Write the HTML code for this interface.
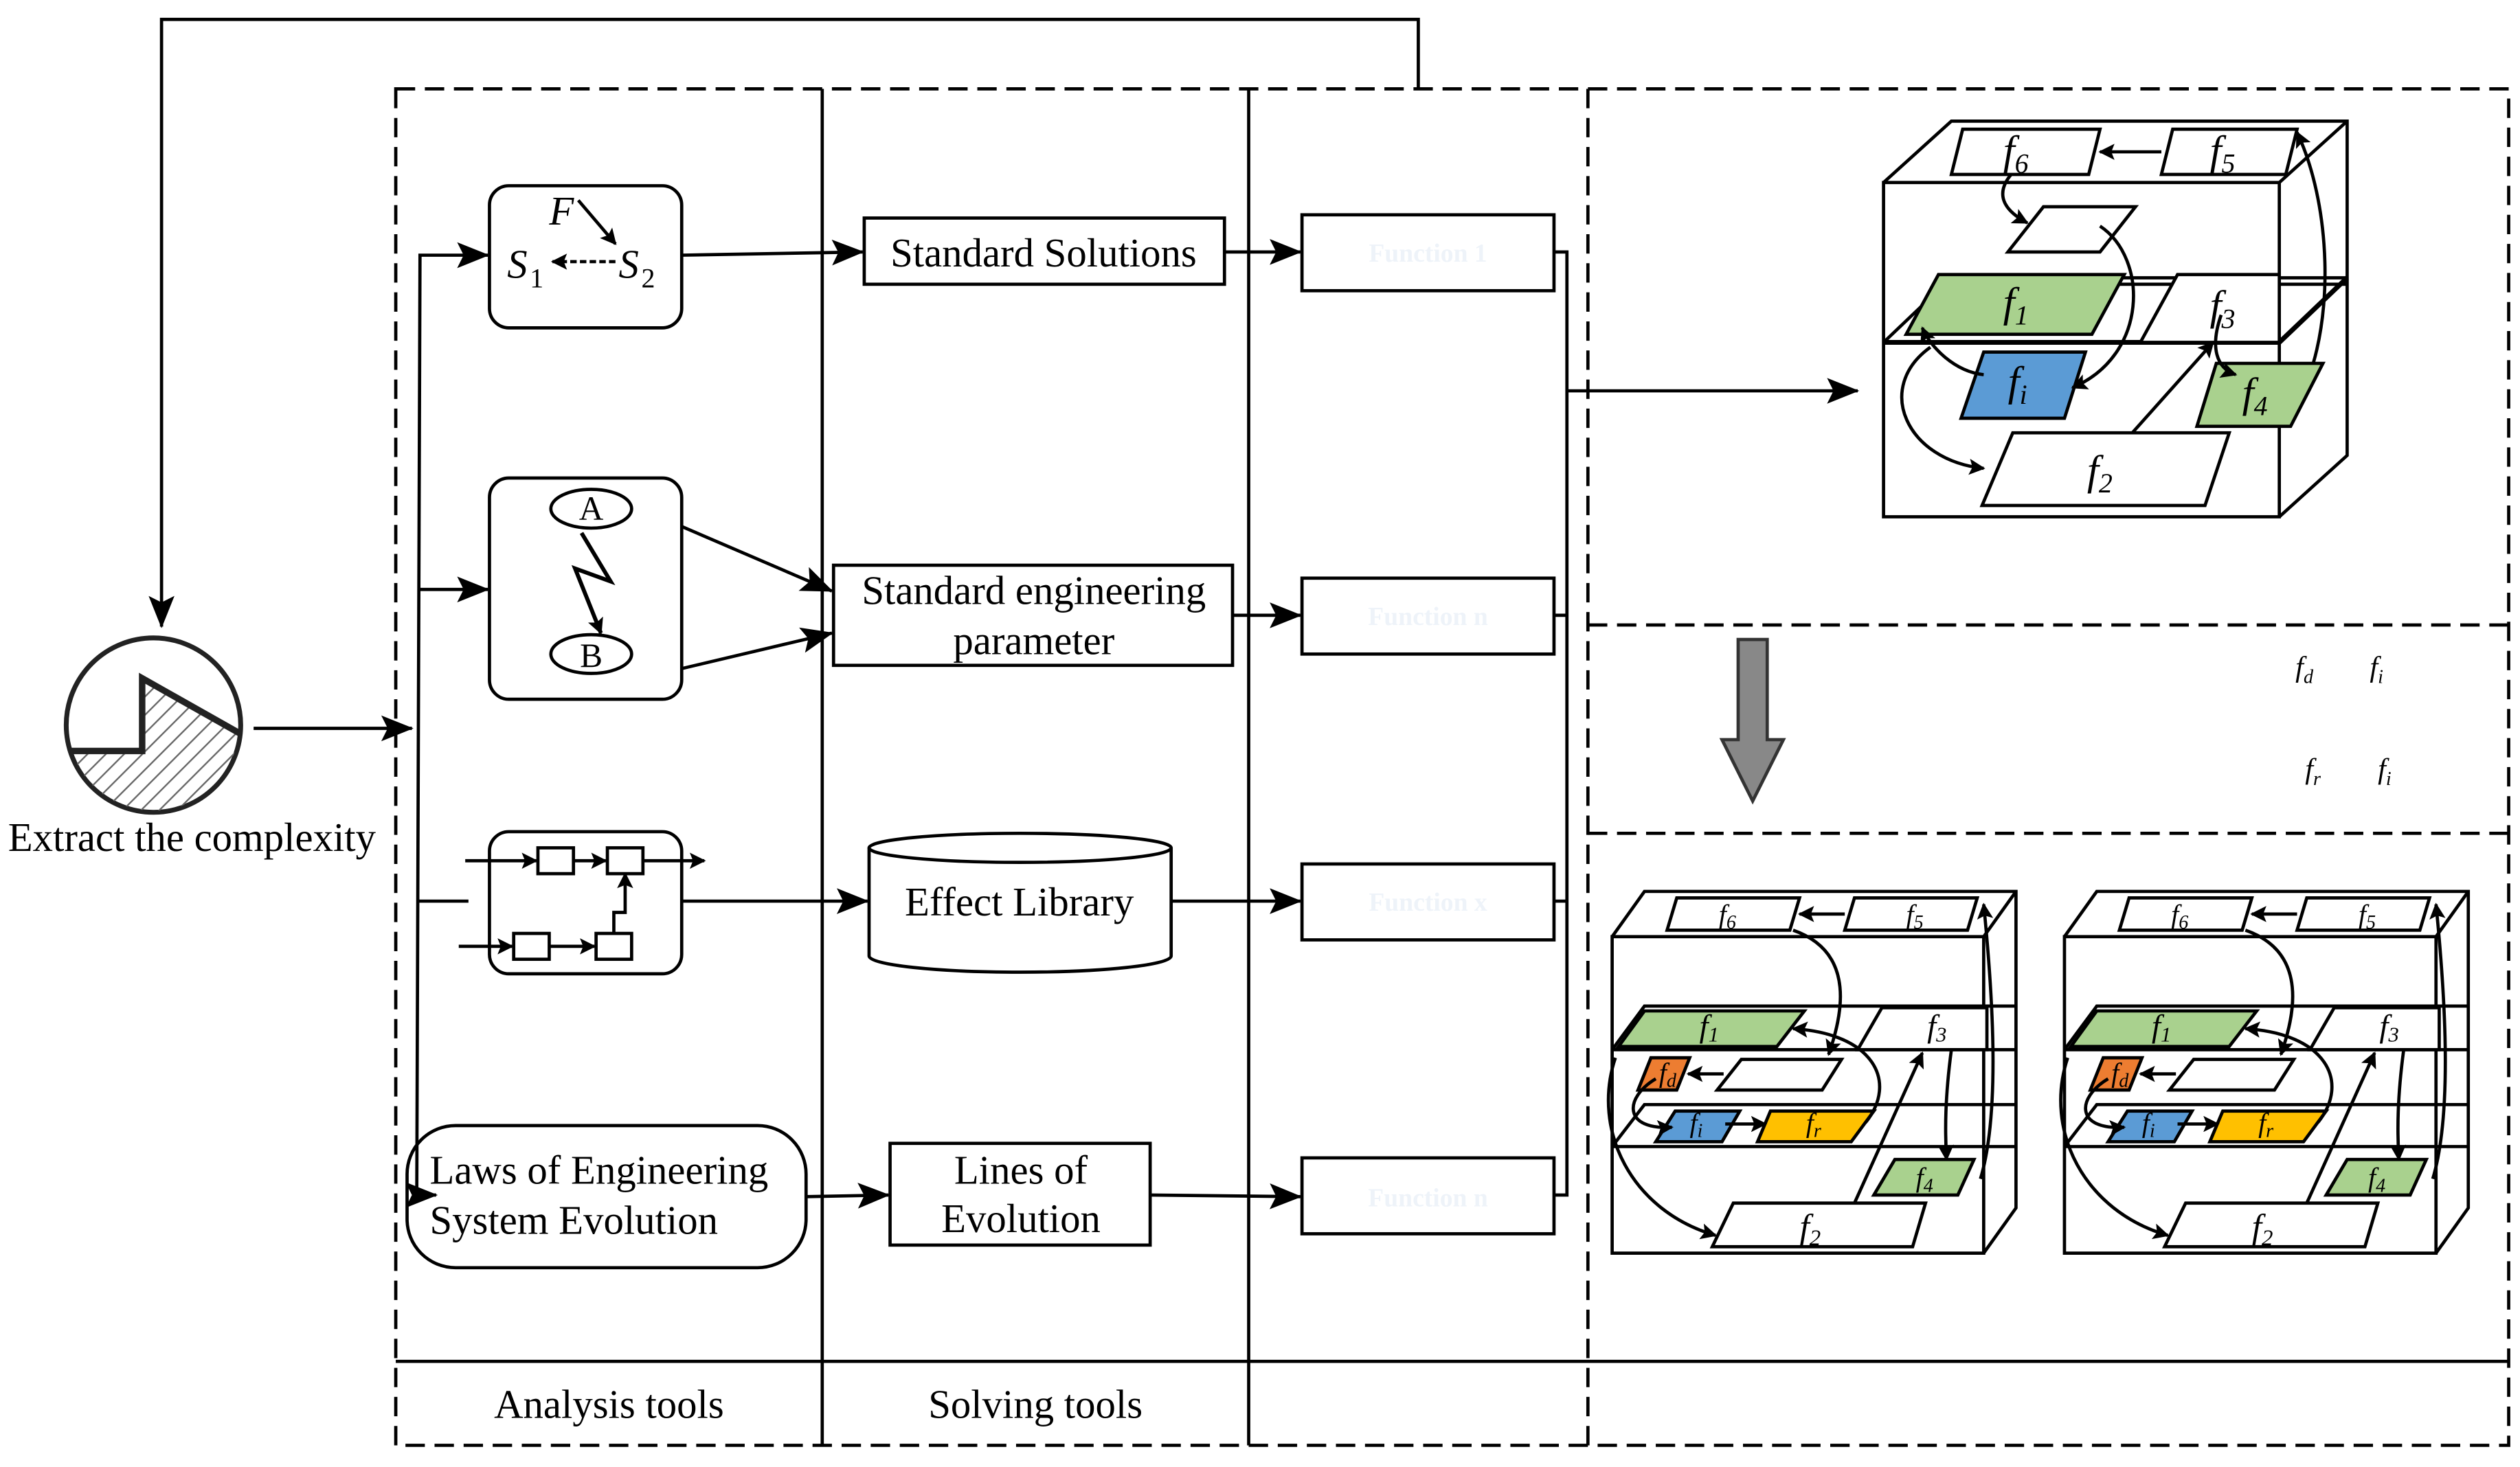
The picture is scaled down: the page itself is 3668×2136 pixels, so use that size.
<!DOCTYPE html>
<html><head><meta charset="utf-8"><style>
html,body{margin:0;padding:0;background:#fff;}
svg{display:block;}
text{font-family:"Liberation Serif",serif;fill:#000;}
.it{font-style:italic;}
</style></head><body>
<svg width="3668" height="2136" viewBox="0 0 1560 908.4" xmlns="http://www.w3.org/2000/svg">
<defs>
<marker id="a" markerWidth="10" markerHeight="10" refX="9" refY="5" orient="auto" markerUnits="userSpaceOnUse"><path d="M0,0 L10,5 L0,10 L2,5 z" fill="#000"/></marker>
<marker id="b" markerWidth="20" markerHeight="16" refX="19" refY="8" orient="auto" markerUnits="userSpaceOnUse"><path d="M0,0 L20,8 L0,16 L4,8 z" fill="#000"/></marker>
<pattern id="h" width="8" height="8" patternUnits="userSpaceOnUse" patternTransform="rotate(45)"><line x1="0" y1="0" x2="0" y2="8" stroke="#666" stroke-width="2"/></pattern>
</defs>
<g fill="none" stroke="#000" stroke-width="2">
<rect x="245" y="55" width="1308" height="840" stroke-dasharray="12,6"/>
<line x1="509" y1="55" x2="509" y2="895"/>
<line x1="773" y1="55" x2="773" y2="895"/>
<line x1="983" y1="55" x2="983" y2="895" stroke-dasharray="12,6"/>
<line x1="245" y1="843" x2="1553" y2="843"/>
<line x1="983" y1="387" x2="1553" y2="387" stroke-dasharray="12,6"/>
<line x1="983" y1="516" x2="1553" y2="516" stroke-dasharray="12,6"/>
<polyline points="878,55 878,12 100,12 100,388" marker-end="url(#b)"/>
<line x1="157" y1="451" x2="255" y2="451" marker-end="url(#b)"/>
<polyline points="255,740 258,740 260,158 302,158" marker-end="url(#b)"/>
<line x1="259" y1="365" x2="302" y2="365" marker-end="url(#b)"/>
<line x1="259" y1="558" x2="290" y2="558"/>
<line x1="255" y1="740" x2="270" y2="740" marker-end="url(#b)"/>
<rect x="303" y="115" width="119" height="88" rx="12"/>
<rect x="303" y="296" width="119" height="137" rx="12"/>
<rect x="303" y="515" width="119" height="88" rx="12"/>
<rect x="252" y="697" width="247" height="88" rx="30"/>
<line x1="358" y1="124" x2="381" y2="151" marker-end="url(#a)"/>
<line x1="381" y1="162" x2="342" y2="162" stroke-dasharray="4,2" marker-end="url(#a)"/>
<ellipse cx="366" cy="315" rx="25" ry="12"/>
<ellipse cx="366" cy="405" rx="25" ry="12"/>
<polyline points="360,330 378,360 356,352 372,392" stroke-width="2.5" marker-end="url(#a)"/>
<line x1="288" y1="533" x2="332" y2="533" marker-end="url(#a)"/>
<rect x="333" y="525" width="22" height="16"/>
<line x1="355" y1="533" x2="375" y2="533" marker-end="url(#a)"/>
<rect x="376" y="525" width="22" height="16"/>
<line x1="398" y1="533" x2="436" y2="533" marker-end="url(#a)"/>
<line x1="284" y1="586" x2="317" y2="586" marker-end="url(#a)"/>
<rect x="318" y="578" width="22" height="16"/>
<line x1="340" y1="586" x2="368" y2="586" marker-end="url(#a)"/>
<rect x="369" y="578" width="22" height="16"/>
<polyline points="380,578 380,565 387,565 387,541" marker-end="url(#a)"/>
<line x1="422" y1="158" x2="534" y2="156" marker-end="url(#b)"/>
<line x1="422" y1="326" x2="515" y2="366" marker-end="url(#b)"/>
<line x1="422" y1="414" x2="515" y2="392" marker-end="url(#b)"/>
<line x1="422" y1="558" x2="537" y2="558" marker-end="url(#b)"/>
<line x1="499" y1="741" x2="550" y2="740" marker-end="url(#b)"/>
<rect x="535" y="135" width="223" height="41"/>
<rect x="516" y="350" width="247" height="62"/>
<path d="M538,525 L538,592 A93.5,10 0 0 0 725,592 L725,525"/>
<ellipse cx="631.5" cy="525" rx="93.5" ry="9"/>
<rect x="551" y="708" width="161" height="63"/>
<line x1="758" y1="156" x2="805" y2="156" marker-end="url(#b)"/>
<line x1="763" y1="381" x2="805" y2="381" marker-end="url(#b)"/>
<line x1="725" y1="558" x2="805" y2="558" marker-end="url(#b)"/>
<line x1="712" y1="740" x2="805" y2="741" marker-end="url(#b)"/>
<rect x="806" y="133" width="156" height="47"/>
<rect x="806" y="358" width="156" height="47"/>
<rect x="806" y="535" width="156" height="47"/>
<rect x="806" y="717" width="156" height="47"/>
<polyline points="962,156 970,156 970,740 962,740"/>
<line x1="962" y1="381" x2="970" y2="381"/>
<line x1="962" y1="558" x2="970" y2="558"/>
<line x1="970" y1="242" x2="1150" y2="242" marker-end="url(#b)"/>
</g>
<g font-size="16" font-weight="bold">
<text x="884" y="162" text-anchor="middle" style="fill:#eef3f9">Function 1</text>
<text x="884" y="387" text-anchor="middle" style="fill:#eef3f9">Function n</text>
<text x="884" y="564" text-anchor="middle" style="fill:#eef3f9">Function x</text>
<text x="884" y="747" text-anchor="middle" style="fill:#eef3f9">Function n</text>
</g>
<circle cx="95" cy="449" r="54" fill="#fff" stroke="#222" stroke-width="3"/>
<clipPath id="cc"><circle cx="95" cy="449" r="53"/></clipPath>
<g clip-path="url(#cc)">
<polygon points="40,465 88,465 88,420 150,455 150,510 40,510" fill="url(#h)" stroke="#222" stroke-width="3"/>
<polyline points="40,465 88,465 88,420 150,455" fill="none" stroke="#222" stroke-width="4"/>
</g>
<g font-size="25">
<text x="5" y="527">Extract the complexity</text>
<text class="it" x="340" y="139">F</text>
<text class="it" x="314" y="172">S</text><text x="328" y="178" font-size="17">1</text>
<text class="it" x="383" y="172">S</text><text x="397" y="178" font-size="17">2</text>
<text x="366" y="322" text-anchor="middle" font-size="21">A</text>
<text x="366" y="413" text-anchor="middle" font-size="21">B</text>
<text x="266" y="733">Laws of Engineering</text>
<text x="266" y="764">System Evolution</text>
<text x="646" y="165" text-anchor="middle">Standard Solutions</text>
<text x="640" y="374" text-anchor="middle">Standard engineering</text>
<text x="640" y="405" text-anchor="middle">parameter</text>
<text x="631" y="567" text-anchor="middle">Effect Library</text>
<text x="632" y="733" text-anchor="middle">Lines of</text>
<text x="632" y="763" text-anchor="middle">Evolution</text>
<text x="377" y="878" text-anchor="middle">Analysis tools</text>
<text x="641" y="878" text-anchor="middle">Solving tools</text>
</g>
<g font-size="18">
<text class="it" x="1421" y="419">f<tspan font-size="12" dy="4">d</tspan></text>
<text class="it" x="1467" y="419">f<tspan font-size="12" dy="4">i</tspan></text>
<text class="it" x="1427" y="482">f<tspan font-size="12" dy="4">r</tspan></text>
<text class="it" x="1472" y="482">f<tspan font-size="12" dy="4">i</tspan></text>
</g>
<polygon points="1076,396 1094,396 1094,458 1104,458 1085,496 1066,458 1076,458" fill="#888" stroke="#333" stroke-width="2"/>
<g stroke="#000" stroke-width="2" fill="none">
<rect x="1166" y="113" width="245" height="207"/>
<polyline points="1166,113 1208,75 1453,75 1453,282 1411,320"/>
<line x1="1411" y1="113" x2="1453" y2="75"/>
<polyline points="1166,212 1208,172 1453,172"/>
<line x1="1166" y1="212" x2="1411" y2="212" stroke-width="3"/>
<line x1="1411" y1="212" x2="1453" y2="172" stroke-width="3"/>
<line x1="1208" y1="176" x2="1453" y2="176"/>
<polygon points="1215,80 1300,80 1293,108 1208,108" fill="#fff"/>
<polygon points="1345,80 1422,80 1415,108 1338,108" fill="#fff"/>
<line x1="1338" y1="94" x2="1300" y2="94" marker-end="url(#a)"/>
<polygon points="1265,128 1322,128 1300,156 1243,156" fill="#fff"/>
<polygon points="1200,170 1315,170 1295,207 1180,207" fill="#a9d18e"/>
<polygon points="1348,170 1411,170 1411,212 1325,212" fill="#fff"/>
<polygon points="1228,218 1291,218 1278,259 1214,259" fill="#5b9bd5"/>
<polygon points="1372,225 1438,225 1418,264 1360,264" fill="#a9d18e"/>
<polygon points="1246,268 1380,268 1365,313 1227,313" fill="#fff"/>
<path d="M1245,108 C1235,120 1240,130 1255,138" marker-end="url(#a)"/>
<path d="M1300,140 C1330,160 1330,220 1283,240" marker-end="url(#a)"/>
<path d="M1320,268 L1370,212" marker-end="url(#a)"/>
<path d="M1375,195 C1368,215 1372,228 1384,232" marker-end="url(#a)"/>
<path d="M1432,225 C1445,180 1440,120 1422,82" marker-end="url(#a)"/>
<path d="M1228,232 C1210,230 1195,215 1190,203" marker-end="url(#a)"/>
<path d="M1195,215 C1160,240 1180,285 1228,290" marker-end="url(#a)"/>
</g>
<g font-size="26">
<text class="it" x="1240" y="102">f<tspan font-size="17" dy="5">6</tspan></text>
<text class="it" x="1368" y="102">f<tspan font-size="17" dy="5">5</tspan></text>
<text class="it" x="1240" y="196">f<tspan font-size="17" dy="5">1</tspan></text>
<text class="it" x="1368" y="198">f<tspan font-size="17" dy="5">3</tspan></text>
<text class="it" x="1243" y="245">f<tspan font-size="17" dy="5">i</tspan></text>
<text class="it" x="1388" y="252">f<tspan font-size="17" dy="5">4</tspan></text>
<text class="it" x="1292" y="300">f<tspan font-size="17" dy="5">2</tspan></text>
</g>
<g id="lb">
<g stroke="#000" stroke-width="2" fill="none">
<rect x="998" y="580" width="230" height="196"/>
<polyline points="998,580 1018,552 1248,552 1248,748 1228,776"/>
<line x1="1228" y1="580" x2="1248" y2="552"/>
<polyline points="998,650 1018,623 1248,623"/>
<line x1="998" y1="650" x2="1248" y2="650"/>
<polyline points="998,710 1018,684 1248,684"/>
<line x1="998" y1="710" x2="1248" y2="710"/>
<polygon points="1038,556 1114,556 1108,576 1032,576" fill="#fff"/>
<polygon points="1148,556 1224,556 1218,576 1142,576" fill="#fff"/>
<line x1="1142" y1="566" x2="1114" y2="566" marker-end="url(#a)"/>
<polygon points="1018,626 1117,626 1100,648 1002,648" fill="#a9d18e"/>
<polygon points="1165,624 1230,624 1230,650 1150,650" fill="#fff"/>
<polygon points="1022,655 1046,655 1038,675 1014,675" fill="#ed7d31"/>
<polygon points="1078,656 1140,656 1128,675 1063,675" fill="#fff"/>
<line x1="1067" y1="665" x2="1045" y2="665" marker-end="url(#a)"/>
<polygon points="1037,688 1077,688 1066,707 1025,707" fill="#5b9bd5"/>
<polygon points="1096,688 1160,688 1146,707 1088,707" fill="#ffc000"/>
<line x1="1068" y1="696" x2="1093" y2="696" marker-end="url(#a)"/>
<polygon points="1173,718 1222,718 1212,740 1160,740" fill="#a9d18e"/>
<polygon points="1073,745 1192,745 1184,772 1060,772" fill="#fff"/>
<path d="M1110,576 C1150,590 1140,630 1132,653" marker-end="url(#a)"/>
<path d="M1148,745 L1190,652" marker-end="url(#a)"/>
<path d="M1208,650 C1204,680 1204,700 1205,718" marker-end="url(#a)"/>
<path d="M1226,730 C1238,690 1234,620 1228,560" marker-end="url(#a)"/>
<path d="M1025,668 C1005,680 1005,700 1035,698" marker-end="url(#a)"/>
<path d="M1155,695 C1175,670 1160,640 1110,637" marker-end="url(#a)"/>
<path d="M1000,655 C985,700 1010,750 1062,765" marker-end="url(#a)"/>
</g>
<g font-size="17">
<text class="it" x="1064" y="572">f<tspan font-size="12" dy="3">6</tspan></text>
<text class="it" x="1180" y="572">f<tspan font-size="12" dy="3">5</tspan></text>
<text class="it" x="1052" y="642" font-size="20">f<tspan font-size="13" dy="3">1</tspan></text>
<text class="it" x="1193" y="642" font-size="20">f<tspan font-size="13" dy="3">3</tspan></text>
<text class="it" x="1027" y="670">f<tspan font-size="12" dy="3">d</tspan></text>
<text class="it" x="1046" y="701">f<tspan font-size="12" dy="3">i</tspan></text>
<text class="it" x="1118" y="701">f<tspan font-size="12" dy="3">r</tspan></text>
<text class="it" x="1186" y="735">f<tspan font-size="12" dy="3">4</tspan></text>
<text class="it" x="1114" y="767" font-size="22">f<tspan font-size="14" dy="4">2</tspan></text>
</g>
</g>
<use href="#lb" x="280" y="0"/>
</svg>
</body></html>
